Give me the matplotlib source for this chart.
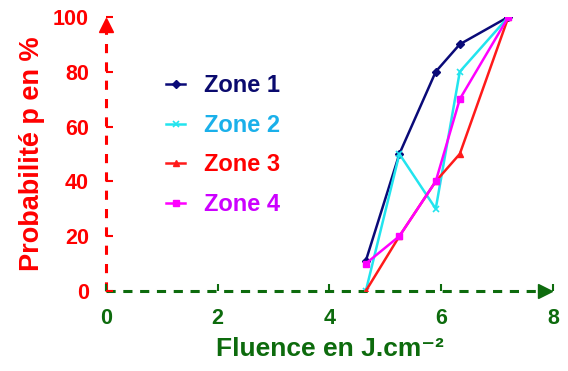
import numpy as np
import matplotlib.pyplot as plt

plt.rcParams['font.family'] = ['Liberation Sans', 'DejaVu Sans']
plt.rcParams['font.weight'] = 'bold'

# Fluence (J/cm2) and probability (%) per zone
fluence = [4.65, 5.25, 5.9, 6.33, 7.2]
zone1 = [11, 50, 80, 90, 100]
zone2 = [0, 50, 30, 80, 100]
zone3 = [0, 20, 40, 50, 100]
zone4 = [10, 20, 40, 70, 100]

xticks = [0, 2, 4, 6, 8]
yticks = [0, 20, 40, 60, 80, 100]

red = '#ff0000'
green = '#0d6b0d'

fig = plt.figure(figsize=(5.68, 3.71), dpi=100)
ax = fig.add_axes([0.186, 0.2156, 0.788, 0.739])

l1, = ax.plot(fluence, zone1, color='#0a0a78', lw=1.8, marker='D', ms=4, label='Zone 1')
l2, = ax.plot(fluence, zone2, color='#22e4ee', lw=1.8, marker='x', ms=4, mew=1.2, label='Zone 2')
l3, = ax.plot(fluence, zone3, color='#ff1a1a', lw=1.8, marker='^', ms=4, label='Zone 3')
l4, = ax.plot(fluence, zone4, color='#ff00ff', lw=1.8, marker='s', ms=5, label='Zone 4')

# dashed axes with arrow heads
ax.plot([0, 0], [0, 97], color=red, lw=2.2, ls=(0, (3, 3)), clip_on=False, zorder=1)
ax.plot([0, 7.85], [0, 0], color=green, lw=2.2, ls=(0, (3, 2.5)), clip_on=False, zorder=1)
ax.plot([0], [97], marker='^', color=red, ms=10, clip_on=False)
ax.plot([7.85], [0], marker='>', color=green, ms=10, clip_on=False)

for s in ax.spines.values():
    s.set_visible(False)

ax.set_xlim(0, 8)
ax.set_ylim(0, 100)
ax.set_xticks(xticks)
ax.set_yticks(yticks)
ax.tick_params(axis='x', colors=green, direction='in', length=5, width=1.5, pad=12, labelsize=15.5)
ax.tick_params(axis='y', colors=red, direction='in', length=5, width=1.5, pad=12, labelsize=15.5)
for t in ax.get_xticklabels() + ax.get_yticklabels():
    t.set_fontweight('bold')

ax.set_xlabel('Fluence en J.cm⁻²', color=green, fontsize=19, fontweight='bold', labelpad=6)
ax.set_ylabel('Probabilité p en %', color=red, fontsize=19.5, fontweight='bold', labelpad=6)

leg = ax.legend(handles=[l1, l2, l3, l4], loc='upper left', bbox_to_anchor=(0.135, 0.79),
                frameon=False, fontsize=17, handlelength=0.8, handletextpad=0.8,
                labelspacing=0.7, borderpad=0, borderaxespad=0,
                labelcolor=['#0a0a6e', '#1ab0ea', '#ff0000', '#cc00ff'])
for t in leg.get_texts():
    t.set_fontweight('bold')

fig.savefig('out.png', dpi=100)
